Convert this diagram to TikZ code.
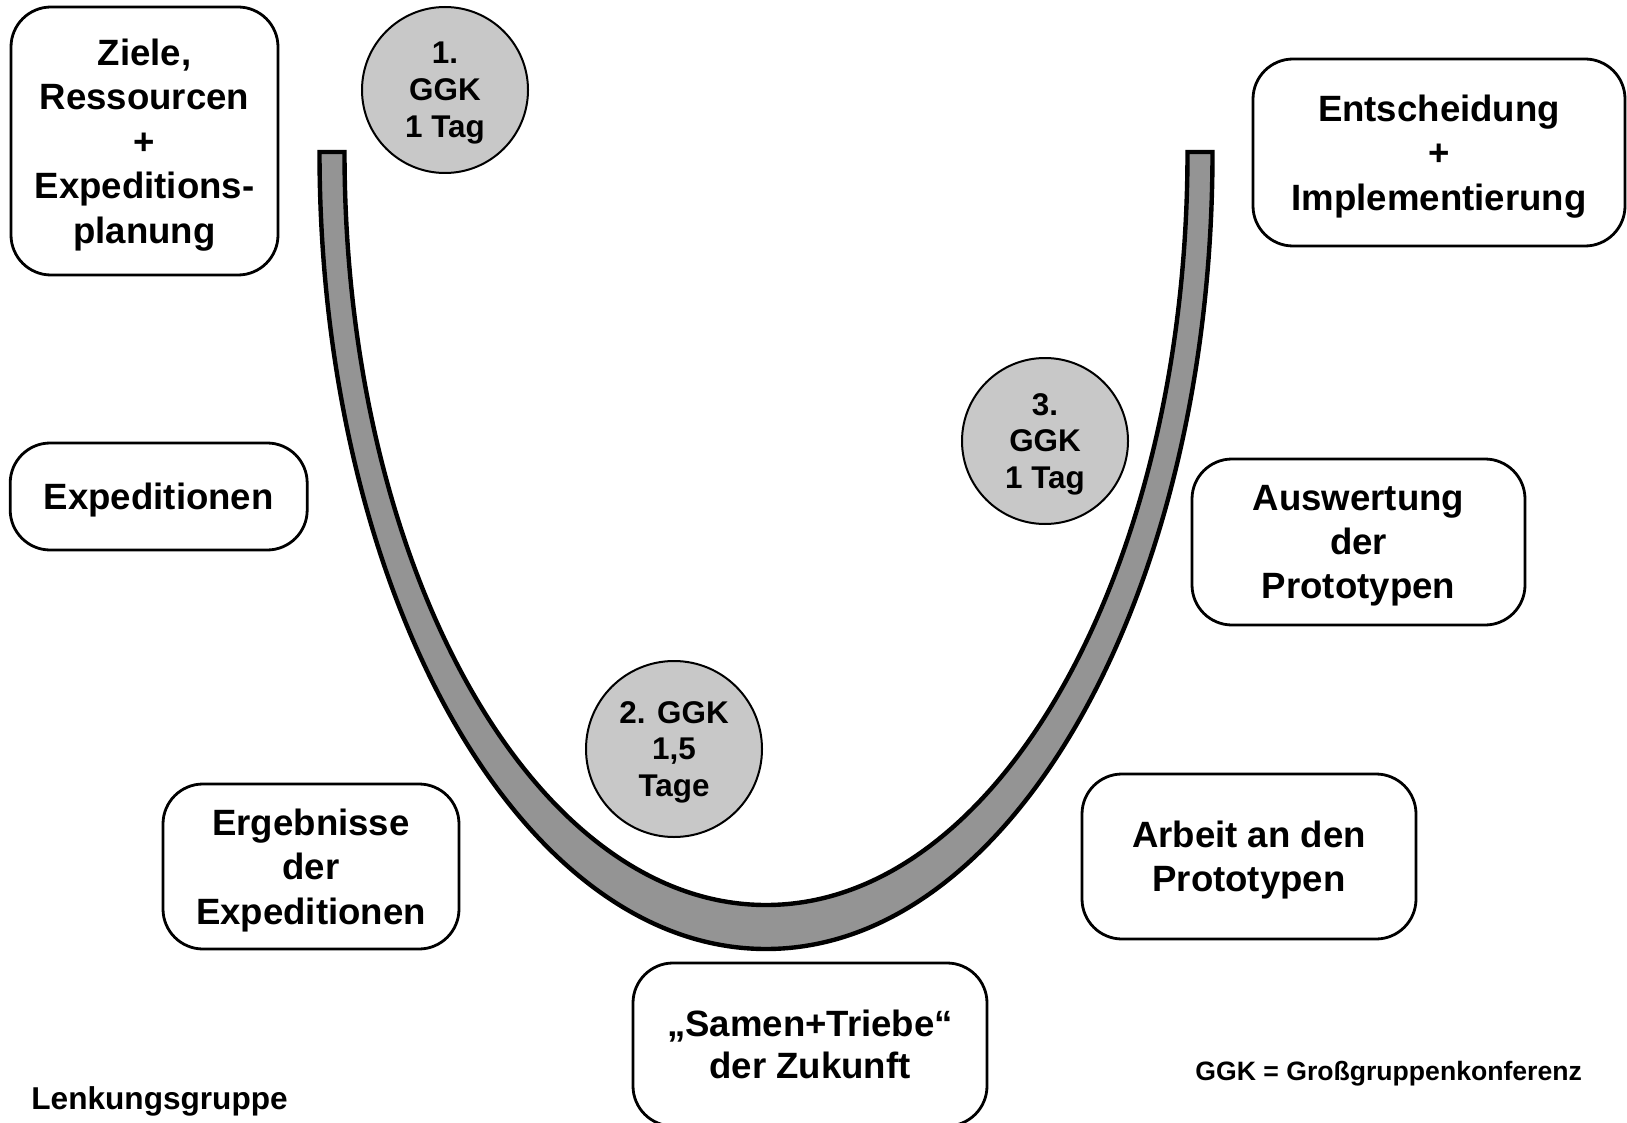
\documentclass[tikz,border=0pt]{standalone}
\usepackage{fontspec}
\setmainfont{Liberation Sans}
\begin{document}
\begin{tikzpicture}[x=0.5pt,y=-0.5pt,
  box/.style={draw=black,line width=1.4pt,rounded corners=20pt,fill=white,
    align=center,inner sep=0pt,text depth=0pt,
    font=\fontsize{18.3}{22.2}\selectfont\bfseries},
  ggk/.style={draw=black,line width=1pt,circle,fill=circgray,align=center,inner sep=0pt,
    text depth=0pt,font=\fontsize{15.7}{18.4}\selectfont\bfseries},
  band/.style={draw=black,line width=2.2pt,fill=bandgray,line join=miter}]
\definecolor{circgray}{RGB}{200,200,200}
\definecolor{bandgray}{RGB}{148,148,148}
\clip (0,0) rectangle (1627,1123);
\fill[white] (0,0) rectangle (1627,1123);

% U-shaped band
\draw[band] (319.5,152) arc[start angle=180,end angle=0,x radius=446.5,y radius=797]
  -- (1187.5,152) arc[start angle=0,end angle=180,x radius=421.5,y radius=753] -- cycle;

% boxes
\node[box,minimum width=267*0.5pt,minimum height=268*0.5pt] (ziele) at (144.5,141)
  {Ziele,\\Ressourcen\\+\\Expeditions-\\planung};
\node[box,minimum width=372*0.5pt,minimum height=187*0.5pt] (entsch) at (1439,152.5)
  {Entscheidung\\+\\Implementierung};
\node[box,minimum width=297*0.5pt,minimum height=107*0.5pt] (exped) at (158.7,496.5)
  {Expeditionen};
\node[box,minimum width=333*0.5pt,minimum height=166*0.5pt] (ausw) at (1358.5,542)
  {Auswertung\\der\\Prototypen};
\node[box,minimum width=296*0.5pt,minimum height=165*0.5pt] (ergeb) at (311,866.5)
  {Ergebnisse\\der\\Expeditionen};
\node[box,minimum width=334*0.5pt,minimum height=165*0.5pt] (arbeit) at (1249,856.5)
  {Arbeit an den\\Prototypen};
\node[box,minimum width=354*0.5pt,minimum height=163*0.5pt,
  font=\fontsize{18.3}{21}\selectfont\bfseries] (samen) at (810,1044.5)
  {„Samen+Triebe“\\der Zukunft};

% circles
\node[ggk,minimum size=166*0.5pt] (c1) at (445,90) {1.\\GGK\\1 Tag};
\node[ggk,minimum size=166*0.5pt] (c3) at (1045,441) {3.\\GGK\\1 Tag};
\node[ggk,minimum size=176*0.5pt] (c2) at (674,749) {2. GGK\\1,5\\Tage};

% labels
\node[anchor=west,inner sep=0pt,font=\fontsize{15.8}{19}\selectfont\bfseries] (lenk) at (31,1101) {Lenkungsgruppe};
\node[anchor=west,inner sep=0pt,font=\fontsize{13.3}{16}\selectfont\bfseries] (legend) at (1195,1074) {GGK = Großgruppenkonferenz};
\end{tikzpicture}
\end{document}
